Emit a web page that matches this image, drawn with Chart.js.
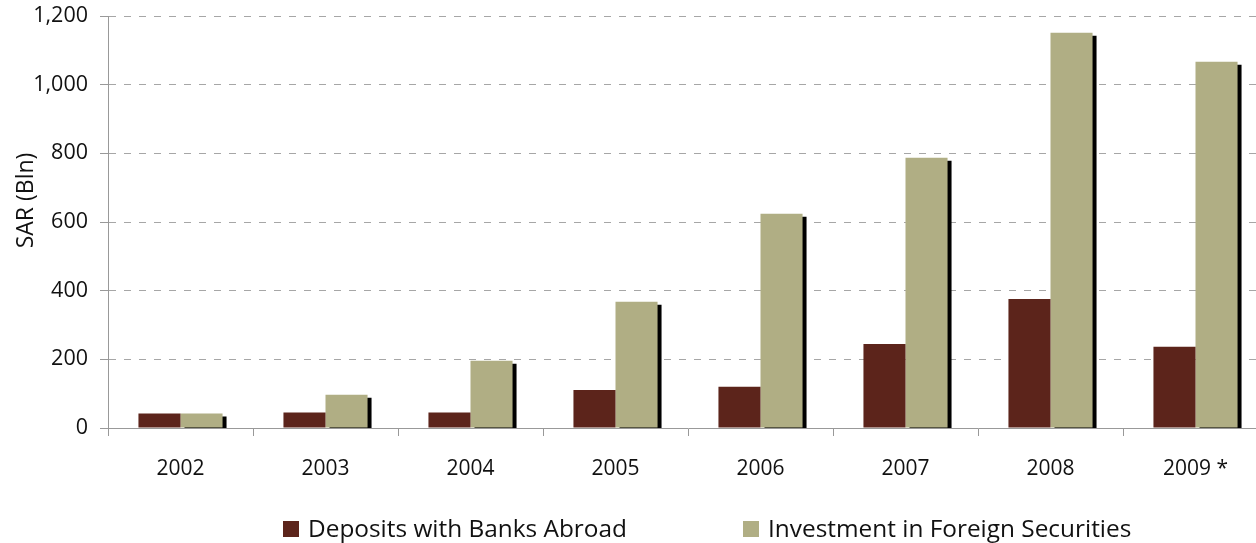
<!DOCTYPE html>
<html>
<head>
<meta charset="utf-8">
<script src="https://cdn.jsdelivr.net/npm/chart.js@4.4.1/dist/chart.umd.min.js"></script>
<style>
  html, body { margin: 0; padding: 0; background: #fff; overflow: hidden; width: 1256px; height: 543px; }
  #wrap { position: relative; width: 1300px; height: 543px; }
  #chart { display: block; }
  .legend-item { position: absolute; top: 512px; display: flex; align-items: center; font-family: "Open Sans", sans-serif; font-size: 24.4px; line-height: 32px; color: #111; white-space: nowrap; }
  .legend-item .swatch { width: 16px; height: 16px; margin-right: 9px; margin-top: 2px; }
</style>
</head>
<body>
<div id="wrap">
  <canvas id="chart" width="1300" height="543"></canvas>
</div>
<script>
// Saudi foreign assets by type, SAR billions
const years = ['2002', '2003', '2004', '2005', '2006', '2007', '2008', '2009 *'];
const depositsAbroad = [42, 45, 45, 111, 120, 245, 376, 237];
const foreignSecurities = [42, 97, 196, 368, 624, 787, 1151, 1067];
const seriesNames = ['Deposits with Banks Abroad', 'Investment in Foreign Securities'];
const seriesColors = ['#5C241B', '#B0AE84'];
const yAxisTitle = 'SAR (Bln)';
const yMax = 1200;
const yStep = 200;

const FONT = '"Open Sans", sans-serif';

// Hard black drop shadow behind the securities bars
const barShadow = {
  id: 'barShadow',
  beforeDatasetDraw(chart, args) {
    if (args.index !== 1) return;
    const ctx = chart.ctx;
    ctx.save();
    ctx.shadowColor = '#000';
    ctx.shadowBlur = 0;
    ctx.shadowOffsetX = 4;
    ctx.shadowOffsetY = 3;
  },
  afterDatasetDraw(chart, args) {
    if (args.index !== 1) return;
    chart.ctx.restore();
  }
};

// Rotated value-axis title, sitting a little above the plot's middle
const axisTitle = {
  id: 'axisTitle',
  afterDraw(chart) {
    const ctx = chart.ctx;
    ctx.save();
    ctx.translate(33, 200.5);
    ctx.rotate(-Math.PI / 2);
    ctx.font = '23px ' + FONT;
    ctx.fillStyle = '#111';
    ctx.textAlign = 'center';
    ctx.textBaseline = 'alphabetic';
    ctx.fillText(yAxisTitle, 0, 0);
    ctx.restore();
  }
};

const chart = new Chart(document.getElementById('chart'), {
  type: 'bar',
  data: {
    labels: years,
    datasets: [
      { label: seriesNames[0], data: depositsAbroad, backgroundColor: seriesColors[0], clip: 0 },
      { label: seriesNames[1], data: foreignSecurities, backgroundColor: seriesColors[1], clip: 0 }
    ]
  },
  options: {
    responsive: false,
    animation: false,
    devicePixelRatio: 1,
    layout: { padding: { top: 16, right: 32, bottom: 0, left: 0 } },
    datasets: { bar: { categoryPercentage: 0.58, barPercentage: 1.0, borderWidth: 0 } },
    plugins: { legend: { display: false }, tooltip: { enabled: false } },
    scales: {
      x: {
        z: 1,
        offset: true,
        grid: { display: true, offset: true, drawOnChartArea: false, drawTicks: true, tickLength: 8, color: '#999', tickColor: '#999', lineWidth: 1 },
        border: { display: true, color: '#999', width: 1 },
        ticks: { color: '#111', padding: 20, font: { family: FONT, size: 21 } },
        afterFit(scale) { scale.height = 115; }
      },
      y: {
        min: 0,
        max: yMax,
        ticks: {
          stepSize: yStep,
          color: '#111',
          padding: 12,
          font: { family: FONT, size: 21.5 },
          callback: (v) => v.toLocaleString('en-US')
        },
        grid: { color: '#A6A6A6', lineWidth: 1, tickLength: 8, tickColor: '#999', tickBorderDash: [] },
        border: { display: true, color: '#999', width: 1, dash: [7, 8] },
        afterFit(scale) {
          scale.width = 108;
          scale.paddingTop = 0;
          scale.paddingBottom = 0;
        }
      }
    }
  },
  plugins: [barShadow, axisTitle]
});

// Legend below the plot
const wrap = document.getElementById('wrap');
const legendLefts = [283, 743];
seriesNames.forEach((name, i) => {
  const item = document.createElement('div');
  item.className = 'legend-item';
  item.style.left = legendLefts[i] + 'px';
  const sw = document.createElement('span');
  sw.className = 'swatch';
  sw.style.background = seriesColors[i];
  const tx = document.createElement('span');
  tx.textContent = name;
  item.appendChild(sw);
  item.appendChild(tx);
  wrap.appendChild(item);
});
</script>
</body>
</html>
